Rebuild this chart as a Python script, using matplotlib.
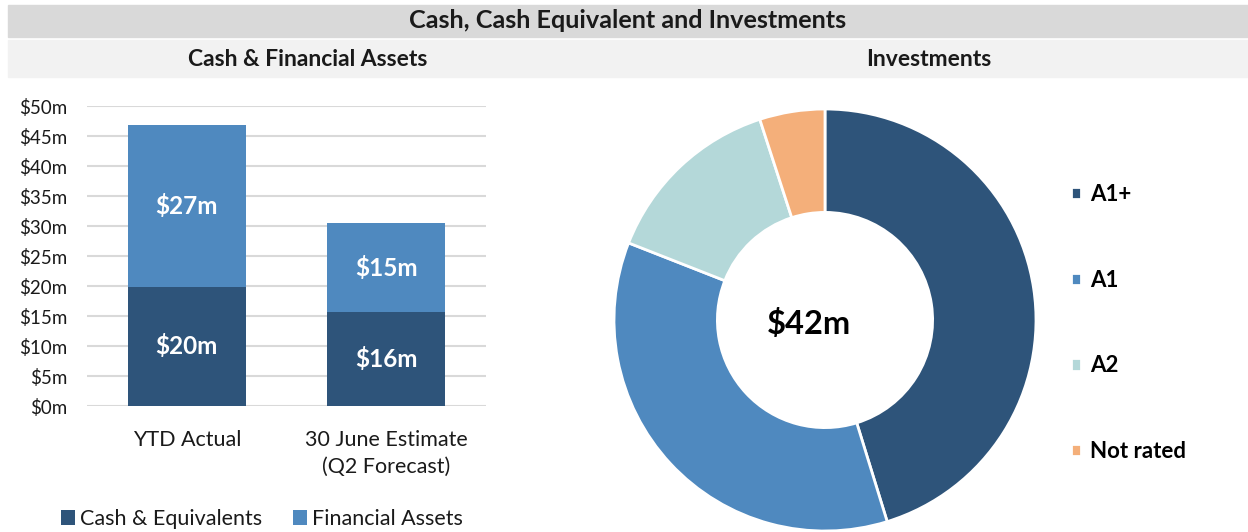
import matplotlib
matplotlib.use("Agg")
import matplotlib.pyplot as plt
from matplotlib.patches import Rectangle

plt.rcParams["font.family"] = ["Lato", "DejaVu Sans"]

# Datos
categorias = ["YTD Actual", "30 June Estimate\n(Q2 Forecast)"]
efectivo = [19.9, 15.6]          # Cash & Equivalents ($m)
activos_fin = [26.9, 14.95]      # Financial Assets ($m)
series_barras = ["Cash & Equivalents", "Financial Assets"]

calificaciones = ["A1+", "A1", "A2", "Not rated"]
inversiones = [19.0, 15.0, 5.9, 2.1]   # $m
total_inversiones = "$42m"

titulo = "Cash, Cash Equivalent and Investments"
subtitulo_izq = "Cash & Financial Assets"
subtitulo_der = "Investments"

# Colores
AZUL_OSCURO = "#2E547A"
AZUL_MEDIO = "#4F89BF"
CELESTE = "#B4D8D9"
NARANJA = "#F4AF7A"
GRIS_LINEA = "#D9D9D9"
TEXTO = "#1A1A1A"

W, H = 1248, 532
fig = plt.figure(figsize=(W / 100, H / 100), dpi=100)


def caja(x0, y0, x1, y1):
    # pixeles (origen arriba-izquierda) -> fraccion de figura
    return [x0 / W, 1 - y1 / H, (x1 - x0) / W, (y1 - y0) / H]


def punto(x, y):
    return x / W, 1 - y / H


# Barras de titulo
fig.patches.append(Rectangle((8 / W, 1 - 37 / H), 1 - 8 / W, 32 / H,
                             transform=fig.transFigure, color="#D9D9D9", zorder=0))
fig.patches.append(Rectangle((8 / W, 1 - 77 / H), 1 - 8 / W, 37 / H,
                             transform=fig.transFigure, color="#F2F2F2", zorder=0))
fig.text(*punto(628, 21), titulo, ha="center", va="center",
         fontsize=18.2, fontweight="bold", color=TEXTO)
fig.text(*punto(308, 60), subtitulo_izq, ha="center", va="center",
         fontsize=16.5, fontweight="bold", color=TEXTO)
fig.text(*punto(929, 60), subtitulo_der, ha="center", va="center",
         fontsize=16.5, fontweight="bold", color=TEXTO)

# Grafico de barras apiladas
ax = fig.add_axes(caja(87, 106, 486, 406))
x = range(len(categorias))
b1 = ax.bar(x, efectivo, width=0.59, color=AZUL_OSCURO,
            label=series_barras[0], zorder=3)
b2 = ax.bar(x, activos_fin, width=0.59, bottom=efectivo, color=AZUL_MEDIO,
            label=series_barras[1], zorder=3)
ax.bar_label(b1, labels=[f"${v:.0f}m" for v in efectivo], label_type="center",
             color="white", fontsize=17.5, fontweight="bold")
ax.bar_label(b2, labels=[f"${v:.0f}m" for v in activos_fin], label_type="center",
             color="white", fontsize=17.5, fontweight="bold")

ax.set_xlim(-0.5, 1.5)
ax.set_ylim(0, 50)
ax.set_yticks(range(0, 51, 5))
ax.set_yticklabels([f"${v}m" for v in range(0, 51, 5)])
ax.set_xticks(list(x))
ax.set_xticklabels(categorias, linespacing=1.45)
ax.grid(axis="y", color=GRIS_LINEA, linewidth=1.5, zorder=0)
for lado in ["top", "right", "left", "bottom"]:
    ax.spines[lado].set_visible(False)
ax.tick_params(axis="y", length=0, pad=14, labelsize=13.5, labelcolor=TEXTO)
ax.tick_params(axis="x", length=0, pad=17, labelsize=15.5, labelcolor=TEXTO)
ax.legend(loc="center", bbox_to_anchor=punto(262, 519),
          bbox_transform=fig.transFigure, ncol=2, frameon=False,
          fontsize=15.5, handlelength=0.65, handleheight=0.65,
          handletextpad=0.25, columnspacing=1.4, labelcolor=TEXTO)

# Grafico de dona
ax2 = fig.add_axes(caja(614, 109, 1036, 531))
cunas, _ = ax2.pie(inversiones, colors=[AZUL_OSCURO, AZUL_MEDIO, CELESTE, NARANJA],
                   startangle=90, counterclock=False, radius=1,
                   wedgeprops=dict(width=0.49, edgecolor="white", linewidth=2))
ax2.set_xlim(-1, 1)
ax2.set_ylim(-1, 1)
ax2.text(-0.075, -0.02, total_inversiones, ha="center", va="center",
         fontsize=23.5, fontweight="bold", color="black")

fig.legend(cunas, calificaciones, loc="center left",
           bbox_to_anchor=punto(1051, 323), bbox_transform=fig.transFigure,
           frameon=False, handlelength=0.47, handleheight=0.47,
           handletextpad=0.38, labelspacing=2.91,
           prop=dict(weight="bold", size=16))

fig.savefig("out.png", dpi=100)
